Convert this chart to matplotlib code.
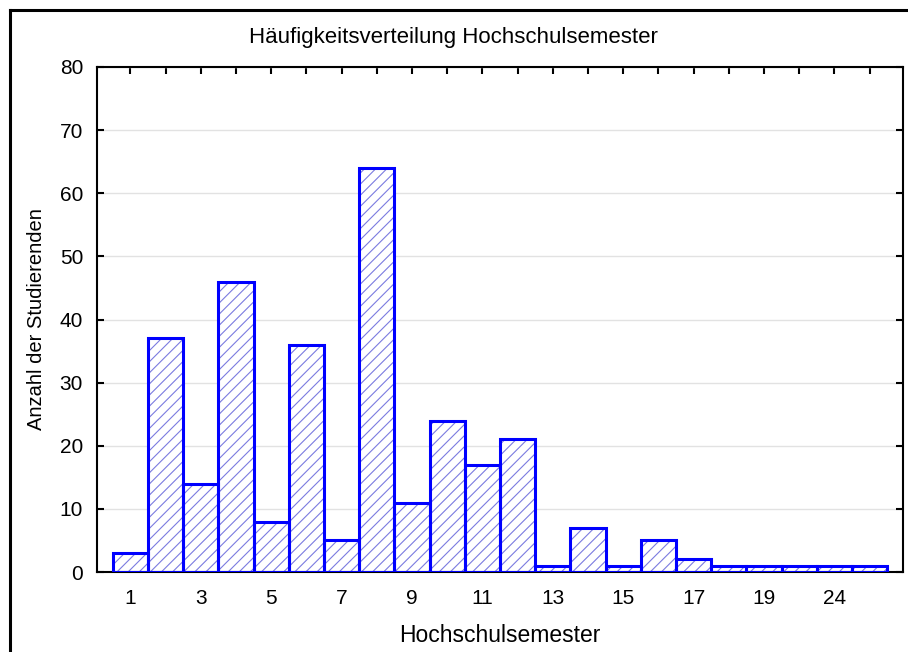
import numpy as np
import matplotlib
matplotlib.use("Agg")
import matplotlib.pyplot as plt
from matplotlib.lines import Line2D

# Semesterangaben und Häufigkeiten
semester = ["1", "2", "3", "4", "5", "6", "7", "8", "9", "10", "11", "12",
            "13", "14", "15", "16", "17", "18", "19", "20", "24", "26"]
anzahl = [3, 37, 14, 46, 8, 36, 5, 64, 11, 24, 17, 21,
          1, 7, 1, 5, 2, 1, 1, 1, 1, 1]
y_ticks = [0, 10, 20, 30, 40, 50, 60, 70, 80]

plt.rcParams['font.family'] = ['Liberation Sans', 'DejaVu Sans']
plt.rcParams['hatch.linewidth'] = 0.8

fig = plt.figure(figsize=(9.08, 6.52), dpi=100)
ax = fig.add_axes([97 / 908, 1 - 572 / 652, (903 - 97) / 908, (572 - 67) / 652])

x = np.arange(len(semester))
# Schraffur und Umriss getrennt zeichnen
ax.bar(x, anzahl, width=1.0, color="white", edgecolor="#7b7be0",
       hatch="///", linewidth=0, zorder=2)
ax.bar(x, anzahl, width=1.0, fill=False, edgecolor="#0000ff",
       linewidth=2.2, zorder=3)

ax.set_xlim(-0.95, len(semester) - 1 + 0.95)
ax.set_ylim(0, 80)
ax.set_yticks(y_ticks)
ax.set_xticks(x)
ax.set_xticklabels([s if i % 2 == 0 else "" for i, s in enumerate(semester)])
ax.yaxis.grid(True, color="#e2e2e2", linewidth=1.0, zorder=0)
ax.set_axisbelow(True)
ax.tick_params(direction="in", length=5, width=1.5, top=True, right=True,
               labelsize=15)
ax.tick_params(axis="x", pad=12)
ax.tick_params(axis="y", pad=10)
for sp in ax.spines.values():
    sp.set_linewidth(1.5)

ax.set_xlabel("Hochschulsemester", fontsize=16.5, labelpad=12)
ax.set_ylabel("Anzahl der Studierenden", fontsize=14.5, labelpad=10)
fig.text(453 / 908, 1 - 38 / 652, "Häufigkeitsverteilung Hochschulsemester",
         ha="center", va="center", fontsize=16)

# Rahmen oben und links
fig.add_artist(Line2D([10 / 908, 1], [1 - 10 / 652, 1 - 10 / 652], color="black",
                      linewidth=2.2, transform=fig.transFigure))
fig.add_artist(Line2D([10 / 908, 10 / 908], [0, 1 - 10 / 652], color="black",
                      linewidth=2.2, transform=fig.transFigure))

fig.savefig("out.png", dpi=100)
